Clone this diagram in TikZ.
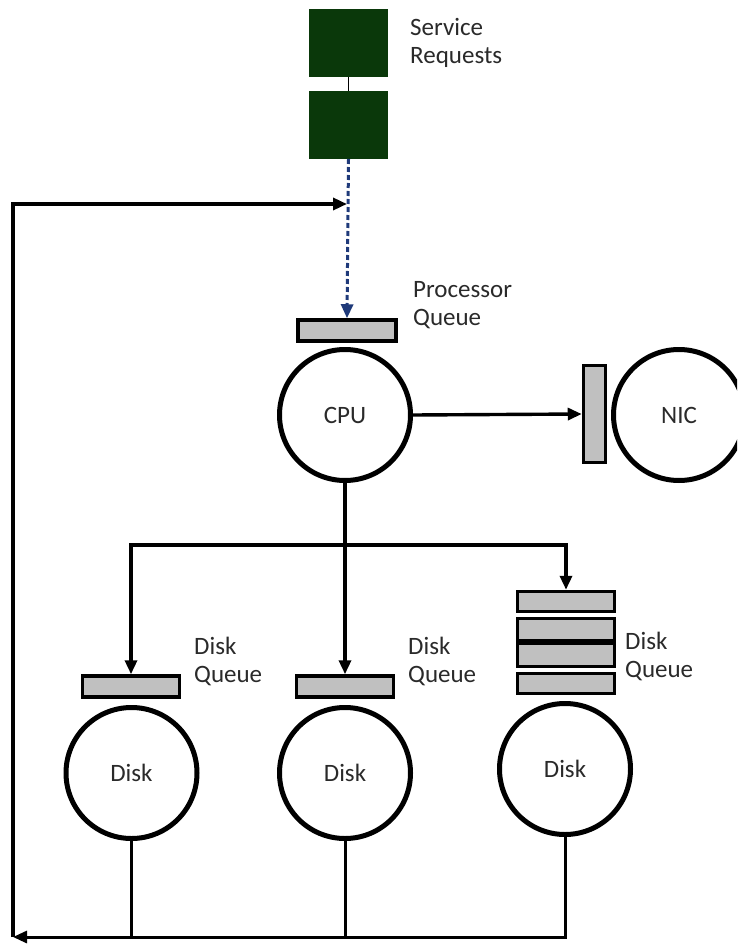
\documentclass[tikz,border=0pt]{standalone}
\usepackage{fontspec}
\setmainfont{Carlito}
\usetikzlibrary{arrows.meta}
\definecolor{srgreen}{HTML}{0A380A}
\definecolor{qgray}{HTML}{C0C0C0}
\definecolor{navy}{HTML}{1F3A7A}
\definecolor{txt}{HTML}{2A2A2A}
\begin{document}
\begin{tikzpicture}[x=1pt,y=-1pt,
  every node/.style={font=\fontsize{25}{28}\selectfont, text=txt},
  srbox/.style={rectangle, fill=srgreen, draw=srgreen, line width=1pt, minimum width=78pt, minimum height=67pt, inner sep=0pt},
  qbox/.style={rectangle, fill=qgray, draw=black, line width=3.5pt, inner sep=0pt},
  hq/.style={qbox, minimum width=97pt, minimum height=21pt},
  vq/.style={qbox, minimum width=22pt, minimum height=97pt},
  srv/.style={circle, draw=black, line width=5pt, minimum size=131pt, inner sep=0pt},
  lbl/.style={align=left, anchor=north west, inner sep=0pt},
  tip/.style={-{Triangle[length=14pt,width=12pt]}},
  conn/.style={line width=3.4pt, tip},
  plain/.style={line width=3pt}]
\clip (0,0) rectangle (737,944);
% service requests
\node[srbox] (sr1) at (348.5,43.5) {};
\node[srbox] (sr2) at (348.5,125) {};
\draw[line width=1.5pt] (sr1.south) -- (sr2.north);
\node[lbl] (srl) at (410,18) {Service\\Requests};
% processor
\node[hq, minimum width=98pt] (pq) at (347,330.5) {};
\node[lbl] (pql) at (413,281) {Processor\\Queue};
\node[srv] (cpu) at (345,415) {CPU};
\node[vq] (nicq) at (594.5,414) {};
\node[srv, anchor=west] (nic) at (611,415) {NIC};
% disk queues
\node[hq] (dq1) at (131,686.5) {};
\node[hq] (dq2) at (345,686.5) {};
\node[hq, minimum height=20pt] (dq3a) at (566,601.5) {};
\node[hq, minimum height=22pt] (dq3b) at (566,629.5) {};
\node[hq, minimum height=23pt] (dq3c) at (566,655) {};
\node[hq, minimum height=20pt] (dq3d) at (566,683.5) {};
\node[lbl] (dql1) at (194,637) {Disk\\Queue};
\node[lbl] (dql2) at (408,637) {Disk\\Queue};
\node[lbl] (dql3) at (625,632) {Disk\\Queue};
% disks
\node[srv] (d1) at (131.5,773) {Disk};
\node[srv] (d2) at (345,773) {Disk};
\node[srv] (d3) at (565,769) {Disk};
% coordinates
\coordinate (br) at (345,545);
\coordinate (cbl) at (13,937);
\coordinate (join) at (347,204);
% connectors
\draw[line width=3pt, navy, dash pattern=on 5pt off 3pt, tip] (sr2.south) -- (pq.north);
\draw[conn] (cpu.east) -- (nicq.west);
\draw[conn] (cpu.south) -- (dq2.north);
\draw[conn] (br) -| (dq1.north);
\draw[conn] (br) -| (dq3a.north);
\draw[plain] (d1.south) -- (d1.south |- cbl);
\draw[plain] (d2.south) -- (d2.south |- cbl);
\draw[plain, tip] (d3.south) |- (cbl);
\draw[conn] (cbl) |- (join);
\end{tikzpicture}
\end{document}
